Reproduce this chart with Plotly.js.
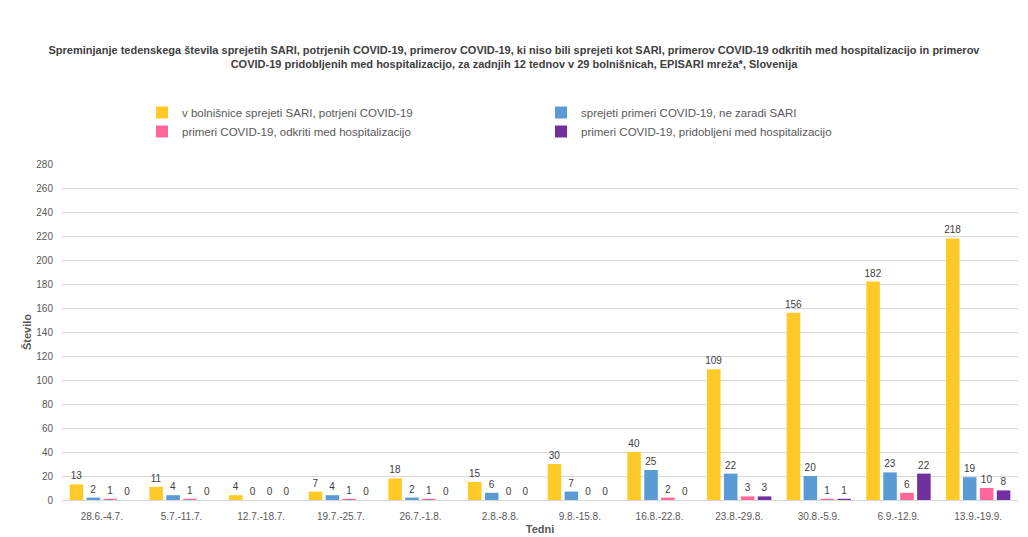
<!DOCTYPE html>
<html>
<head>
<meta charset="utf-8">
<script src="https://cdn.plot.ly/plotly-3.0.1.min.js"></script>
<style>html,body{margin:0;padding:0;background:#fff;}#chart{width:1028px;height:537px;}</style>
</head>
<body>
<div id="chart"></div>
<script>
const weeks = ["28.6.-4.7.", "5.7.-11.7.", "12.7.-18.7.", "19.7.-25.7.", "26.7.-1.8.", "2.8.-8.8.", "9.8.-15.8.", "16.8.-22.8.", "23.8.-29.8.", "30.8.-5.9.", "6.9.-12.9.", "13.9.-19.9."];
const sariCovid = [13, 11, 4, 7, 18, 15, 30, 40, 109, 156, 182, 218];
const covidNotSari = [2, 4, 0, 4, 2, 6, 7, 25, 22, 20, 23, 19];
const detectedInHospital = [1, 1, 0, 1, 1, 0, 0, 2, 3, 1, 6, 10];
const acquiredInHospital = [0, 0, 0, 0, 0, 0, 0, 0, 3, 1, 22, 8];
const seriesNames = [
  "v bolnišnice sprejeti SARI, potrjeni COVID-19",
  "sprejeti primeri COVID-19, ne zaradi SARI",
  "primeri COVID-19, odkriti med hospitalizacijo",
  "primeri COVID-19, pridobljeni med hospitalizacijo"
];
const yTicks = [0, 20, 40, 60, 80, 100, 120, 140, 160, 180, 200, 220, 240, 260, 280];

const FONT = "'Liberation Sans', Arial, sans-serif";
const colors = ["#FFCA28", "#5B9BD5", "#FF6699", "#7030A0"];
const seriesData = [sariCovid, covidNotSari, detectedInHospital, acquiredInHospital];

const traces = seriesData.map((vals, i) => ({
  type: "bar",
  name: seriesNames[i],
  x: weeks,
  y: vals,
  text: vals.map(String),
  textposition: "outside",
  textangle: 0,
  constraintext: "none",
  cliponaxis: false,
  textfont: {family: FONT, size: 10, color: "#404040"},
  marker: {color: colors[i], line: {width: 0}},
  hoverinfo: "x+y+name"
}));

const layout = {
  width: 1028, height: 537,
  paper_bgcolor: "#fff", plot_bgcolor: "#fff",
  margin: {l: 62, r: 10, t: 164, b: 37},
  font: {family: FONT, color: "#595959", size: 10},
  title: {
    text: "<b>Spreminjanje tedenskega števila sprejetih SARI, potrjenih COVID-19, primerov COVID-19, ki niso bili sprejeti kot SARI, primerov COVID-19 odkritih med hospitalizacijo in primerov<br>COVID-19 pridobljenih med hospitalizacijo, za zadnjih 12 tednov v 29 bolnišnicah, EPISARI mreža*, Slovenija</b>",
    font: {family: FONT, size: 11, color: "#404040"},
    x: 0.5, xanchor: "center", y: 1 - 54 / 537, yanchor: "middle", yref: "container"
  },
  barmode: "group",
  bargap: 0.15,
  bargroupgap: 0.2,
  showlegend: true,
  legend: {
    orientation: "h",
    x: (142 - 62) / 956, xanchor: "left",
    y: 1 + (164 - 98) / 336, yanchor: "top",
    xref: "paper", yref: "paper",
    entrywidth: 354, entrywidthmode: "pixels",
    font: {family: FONT, size: 11.5, color: "#595959"},
    traceorder: "normal",
    itemwidth: 30,
    tracegroupgap: 0
  },
  xaxis: {
    type: "category",
    tickfont: {family: FONT, size: 10, color: "#595959"},
    showgrid: false, showline: false, ticks: "",
    ticklabelstandoff: 9,
    automargin: false,
    title: {text: "<b>Tedni</b>", font: {family: FONT, size: 11, color: "#595959"}, standoff: 4}
  },
  yaxis: {
    range: [0, 280],
    tickvals: yTicks,
    ticktext: yTicks.map(String),
    tickfont: {family: FONT, size: 10, color: "#595959"},
    showgrid: true, gridcolor: "#D9D9D9", gridwidth: 1,
    zeroline: true, zerolinecolor: "#D9D9D9", zerolinewidth: 1,
    showline: false, ticks: "",
    ticklabelstandoff: 8,
    title: {text: "<b>Število</b>", font: {family: FONT, size: 11, color: "#595959"}, standoff: 2}
  }
};

Plotly.newPlot("chart", traces, layout, {displayModeBar: false, staticPlot: true});
</script>
</body>
</html>
